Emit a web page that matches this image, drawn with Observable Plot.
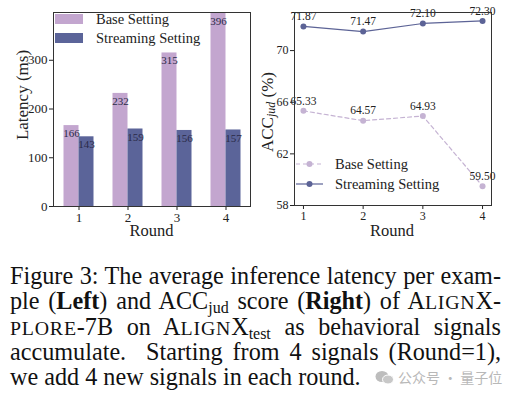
<!DOCTYPE html>
<html><head><meta charset="utf-8">
<script src="https://cdn.jsdelivr.net/npm/d3@7"></script>
<script src="https://cdn.jsdelivr.net/npm/@observablehq/plot@0.6"></script>
<style>
body{margin:0;background:#fff;width:518px;height:399px;overflow:hidden;position:relative;font-family:"Liberation Serif",serif;}
#left{position:absolute;left:0;top:0;}
#right{position:absolute;left:255px;top:0;}
#cap{position:absolute;left:10px;top:263px;width:491px;font-size:24.2px;line-height:25.3px;color:#111;}
.ln{text-align:justify;text-align-last:justify;height:25.3px;white-space:nowrap;}
.last{text-align:left;text-align-last:left;}
.sc{font-size:0.82em;letter-spacing:0.8px;}
sub{font-size:0.66em;vertical-align:-0.28em;line-height:0;}
#wm{position:absolute;left:375px;top:367px;font-family:"Noto Sans CJK SC",sans-serif;font-size:14px;color:#b8b8b8;white-space:nowrap;}
</style>
</head><body>
<div id="left"></div>
<div id="right"></div>
<div id="cap">
<div class="ln">Figure 3: The average inference latency per exam-</div>
<div class="ln">ple (<b>Left</b>) and ACC<sub>jud</sub> score (<b>Right</b>) of A<span class="sc">LIGN</span>X-</div>
<div class="ln"><span class="sc">PLORE</span>-7B on A<span class="sc">LIGN</span>X<sub>test</sub> as behavioral signals</div>
<div class="ln">accumulate.&nbsp; Starting from 4 signals (Round=1),</div>
<div class="ln last">we add 4 new signals in each round.</div>
</div>
<div id="wm"><svg width="19" height="15" style="vertical-align:-2px;margin-right:4px"><ellipse cx="7" cy="6.5" rx="6.5" ry="5.5" fill="#bdbdbd"/><ellipse cx="13" cy="9.5" rx="5.5" ry="4.5" fill="#c8c8c8" stroke="#fff" stroke-width="1"/></svg>公众号 · 量子位</div>
<script>
const rounds = [1, 2, 3, 4];
const settings = ["Base Setting", "Streaming Setting"];
const baseLatency = [166, 232, 315, 396];
const streamLatency = [143, 159, 156, 157];
const latencyTicks = [0, 100, 200, 300];
const baseAcc = [65.33, 64.57, 64.93, 59.50];
const streamAcc = [71.87, 71.47, 72.10, 72.30];
const accTicks = [58, 62, 66, 70];

const barColors = ["#c3a6cf", "#5b6499"];
const lineColors = ["#c5b3d3", "#5c6396"];
const font = "Liberation Serif, serif";

const latency = rounds.flatMap((r, i) => [
  {round: String(r), setting: settings[0], value: baseLatency[i]},
  {round: String(r), setting: settings[1], value: streamLatency[i]}
]);
const acc = rounds.flatMap((r, i) => [
  {round: r, setting: settings[0], value: baseAcc[i]},
  {round: r, setting: settings[1], value: streamAcc[i]}
]);

const left = Plot.plot({
  width: 260, height: 245,
  marginLeft: 53, marginRight: 10, marginTop: 12, marginBottom: 39,
  style: {fontFamily: font, fontSize: "13px", color: "#222", background: "transparent"},
  x: {domain: rounds.map(String), paddingInner: 0.7, paddingOuter: 0.33, label: null, tickSize: 4, tickPadding: 2},
  y: {domain: [0, 398], ticks: latencyTicks, label: null, tickSize: 4, tickPadding: 2},
  marks: [
    Plot.barY(latency.filter(d => d.setting === settings[0]), {x: "round", y: "value", fill: barColors[0], dx: -7.5}),
    Plot.barY(latency.filter(d => d.setting === settings[1]), {x: "round", y: "value", fill: barColors[1], dx: 7.5}),
    Plot.text(latency.filter(d => d.setting === settings[0]), {x: "round", y: "value", text: d => String(d.value), dx: -7.5, dy: 8, fill: "#2a2a48", fontSize: 11}),
    Plot.text(latency.filter(d => d.setting === settings[1]), {x: "round", y: "value", text: d => String(d.value), dx: 7.5, dy: 8, fill: "#2a2a48", fontSize: 11}),
    Plot.frame({stroke: "#333"})
  ]
});
document.getElementById("left").appendChild(left);

const right = Plot.plot({
  width: 263, height: 245,
  marginLeft: 39, marginRight: 27, marginTop: 12, marginBottom: 40,
  style: {fontFamily: font, fontSize: "12px", color: "#222", background: "transparent"},
  x: {domain: [0.85, 4.15], ticks: rounds, tickFormat: d3.format("d"), label: null, tickSize: 4, tickPadding: 2},
  y: {domain: [58, 72.95], ticks: accTicks, label: null, tickSize: 4, tickPadding: 2},
  marks: [
    Plot.line(acc.filter(d => d.setting === settings[0]), {x: "round", y: "value", stroke: lineColors[0], strokeWidth: 1.2, strokeDasharray: "4,3"}),
    Plot.line(acc.filter(d => d.setting === settings[1]), {x: "round", y: "value", stroke: lineColors[1], strokeWidth: 1.2}),
    Plot.dot(acc, {x: "round", y: "value", fill: d => d.setting === settings[0] ? lineColors[0] : lineColors[1], r: 3}),
    Plot.text(acc, {x: "round", y: "value", text: d => d.value.toFixed(2), dy: -10, fill: "#222", fontSize: 11.5}),
    Plot.frame({stroke: "#333"})
  ]
});
document.getElementById("right").appendChild(right);

[[left, 13], [right, 12]].forEach(([svg, size]) => {
  d3.select(svg).selectAll("g[aria-label*='axis'] text").style("font-family", font).style("font-size", size + "px");
});

function addText(svg, x, y, txt, size, rotate) {
  return d3.select(svg).append("text")
    .attr("transform", `translate(${x},${y})` + (rotate ? " rotate(-90)" : ""))
    .attr("text-anchor", "middle").attr("dominant-baseline", "central")
    .style("font-family", font).attr("font-size", size).attr("fill", "#222").text(txt);
}
addText(left, 22.5, 95, "Latency (ms)", 17, true);
addText(left, 151.5, 230, "Round", 16.5, false);
addText(right, 137, 230, "Round", 16.5, false);
const yl = addText(right, 12, 112, "ACC", 17, true);
yl.append("tspan").attr("font-style", "italic").attr("font-size", 12).attr("dy", 4).text("jud");
yl.append("tspan").attr("dy", -4).text(" (%)");

const lg = d3.select(left).append("g").attr("text-anchor", "start");
settings.forEach((s, i) => {
  lg.append("rect").attr("x", 55).attr("y", 14 + i * 19).attr("width", 28).attr("height", 10).attr("fill", barColors[i]);
  lg.append("text").attr("x", 96).attr("y", 19 + i * 19).attr("dominant-baseline", "central").attr("text-anchor", "start")
    .style("font-family", font).attr("font-size", 14.5).attr("fill", "#222").text(s);
});
const rg = d3.select(right).append("g").attr("text-anchor", "start");
settings.forEach((s, i) => {
  const y = 164 + i * 20;
  rg.append("line").attr("x1", 41).attr("x2", 68).attr("y1", y).attr("y2", y)
    .attr("stroke", lineColors[i]).attr("stroke-width", 1.2).attr("stroke-dasharray", i === 0 ? "4,3" : null);
  rg.append("circle").attr("cx", 54.5).attr("cy", y).attr("r", 3).attr("fill", lineColors[i]);
  rg.append("text").attr("x", 80).attr("y", y).attr("dominant-baseline", "central").attr("text-anchor", "start")
    .style("font-family", font).attr("font-size", 14.5).attr("fill", "#222").text(s);
});
</script>
</body></html>
